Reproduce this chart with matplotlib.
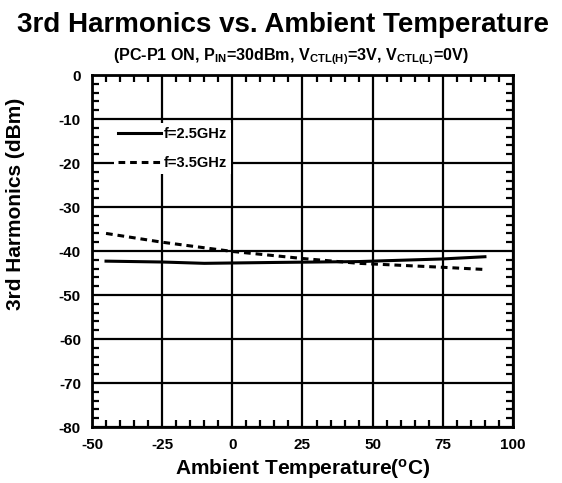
import matplotlib
matplotlib.use("Agg")
import matplotlib.pyplot as plt
from matplotlib.ticker import MultipleLocator

plt.rcParams['font.family'] = ['Liberation Sans', 'DejaVu Sans']
plt.rcParams['font.weight'] = 'bold'
plt.rcParams['axes.unicode_minus'] = False
plt.rcParams['mathtext.fontset'] = 'custom'
plt.rcParams['mathtext.rm'] = 'Liberation Sans:bold'
plt.rcParams['mathtext.it'] = 'Liberation Sans:bold'
plt.rcParams['mathtext.bf'] = 'Liberation Sans:bold'

temp_25 = [-45, -25, -10, 15, 45, 75, 90]
h3_25 = [-42.3, -42.5, -42.8, -42.6, -42.4, -41.8, -41.3]
temp_35 = [-45, -25, 0, 25, 45, 75, 90]
h3_35 = [-36.0, -38.0, -40.1, -41.7, -42.8, -43.7, -44.2]
labels = ['f=2.5GHz', 'f=3.5GHz']

fig = plt.figure(figsize=(5.62, 4.83), dpi=100)
ax = fig.add_axes([0.1637, 0.1159, 0.7491, 0.7288])

ax.plot(temp_25, h3_25, color='black', lw=2.2, ls='-', label=labels[0])
ax.plot(temp_35, h3_35, color='black', lw=2.2, ls=(0, (2.2, 1.6)), label=labels[1])

ax.set_xlim(-50, 100)
ax.set_ylim(-80, 0)
ax.xaxis.set_major_locator(MultipleLocator(25))
ax.xaxis.set_minor_locator(MultipleLocator(5))
ax.yaxis.set_major_locator(MultipleLocator(10))
ax.yaxis.set_minor_locator(MultipleLocator(2))
ax.grid(True, which='major', color='black', lw=1.6)
ax.tick_params(which='both', direction='in', top=True, right=True, width=1.6)
ax.tick_params(which='major', length=0, labelsize=11)
ax.tick_params(axis='y', which='major', pad=8)
ax.tick_params(axis='x', which='major', pad=8)
ax.tick_params(which='minor', length=5)
for s in ax.spines.values():
    s.set_linewidth(2)
for lab in ax.get_xticklabels() + ax.get_yticklabels():
    lab.set_fontweight('bold')

ax.set_xlabel('Ambient Temperature($^{\\mathrm{o}}$C)', fontsize=15, fontweight='bold')
ax.set_ylabel('3rd Harmonics (dBm)', fontsize=15, fontweight='bold')
ax.xaxis.set_label_coords(0.5, -0.085)
ax.yaxis.set_label_coords(-0.16, 0.633)

fig.text(0.503, 1 - 32 / 483, '3rd Harmonics vs. Ambient Temperature', ha='center', va='baseline',
         fontsize=20, fontweight='bold')
fig.text(0.517, 1 - 60 / 483,
         '(PC-P1 ON, P$_{\\mathrm{IN}}$=30dBm, V$_{\\mathrm{CTL(H)}}$=3V, V$_{\\mathrm{CTL(L)}}$=0V)',
         ha='center', va='baseline', fontsize=11.6, fontweight='bold')

leg = ax.legend(loc='upper left', bbox_to_anchor=(0.052, 0.864), borderaxespad=0,
                frameon=True, fancybox=False,
                edgecolor='none', facecolor='white', framealpha=1, fontsize=10.5,
                handlelength=2.9, handletextpad=0.2, labelspacing=1.0, borderpad=0.3)
for t in leg.get_texts():
    t.set_fontweight('bold')

fig.savefig('out.png', dpi=100)
